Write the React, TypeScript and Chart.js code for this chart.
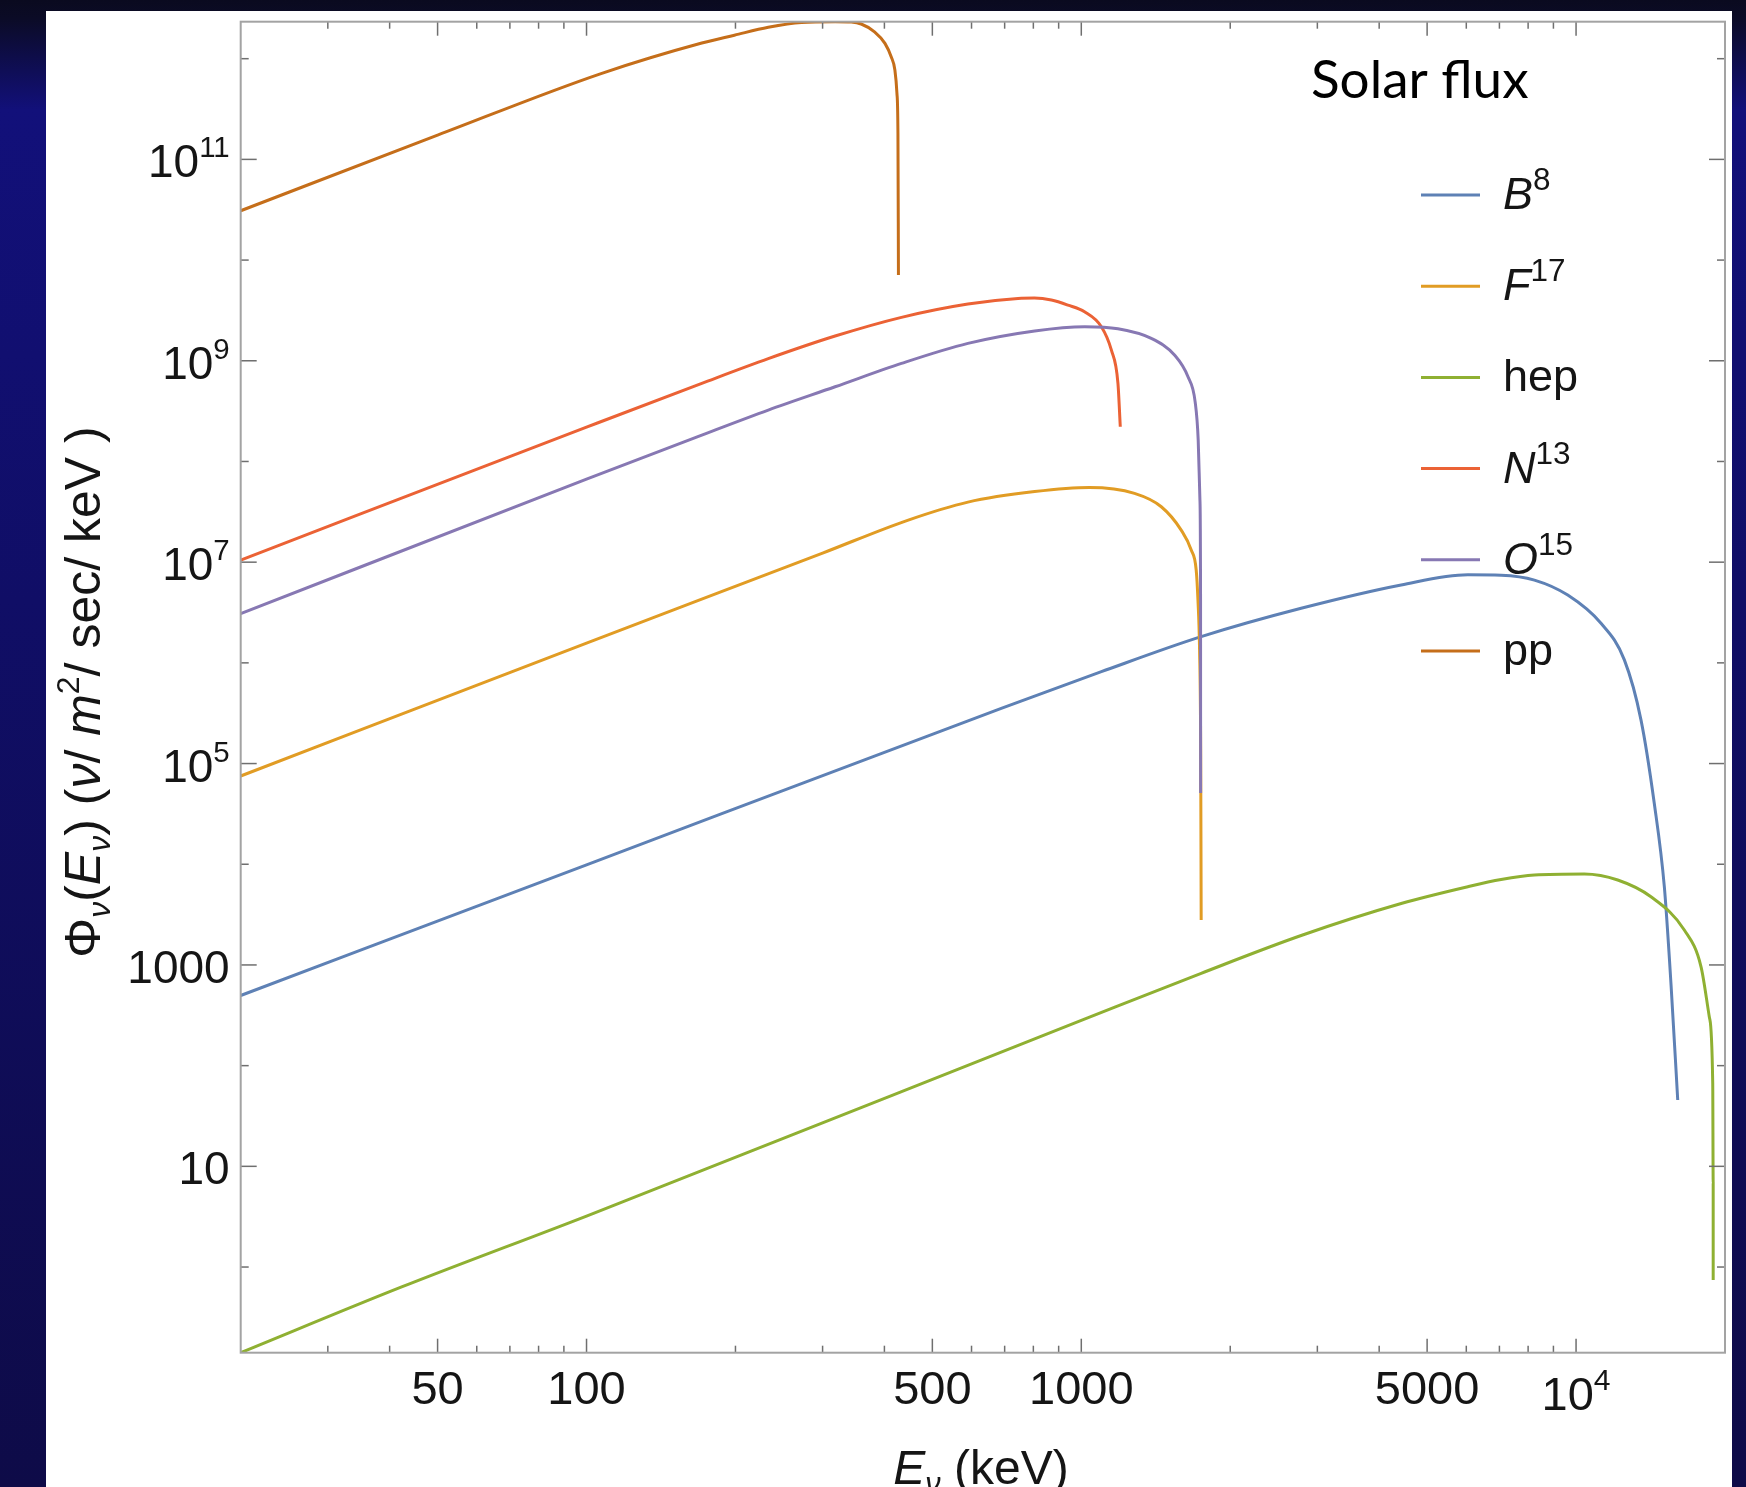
import React, { useEffect, useRef } from "react";
import { Chart, registerables } from "chart.js";

Chart.register(...registerables);

// ---------------- data (energy in keV, flux) ----------------
const seriesNames = ["B8", "F17", "hep", "N13", "O15", "pp"];
const seriesColors = ["#5E81B5", "#E19C24", "#8FB032", "#EB6235", "#8778B3", "#C56E1A"];

const b8Energy = [20, 100, 689, 1098, 1747, 2782, 4431, 6042, 7055, 8238, 9621, 11230, 12520, 13530, 14390, 15080, 15560, 16050];
const b8Flux = [497, 9.86e3, 3.53e5, 8.17e5, 1.82e6, 3.48e6, 5.93e6, 7.5e6, 7.42e6, 6.64e6, 4.71e6, 2.47e6, 1.07e6, 2.7e5, 4.03e4, 5.98e3, 631, 45.6];

const f17Energy = [20, 100, 300, 447, 590, 805, 1038, 1281, 1451, 1592, 1668, 1707, 1721, 1734, 1743, 1747];
const f17Flux = [7.52e4, 1.57e6, 1.23e7, 2.62e7, 3.95e7, 5.02e7, 5.51e7, 4.82e7, 3.55e7, 2.08e7, 1.32e7, 8.36e6, 4.21e6, 1.34e6, 1.36e5, 2.79e3];

const hepEnergy = [20, 42.3, 100, 1000, 1747, 2782, 4431, 6042, 7055, 8238, 10390, 12140, 14170, 16550, 17890, 18590, 18890, 18930, 18930];
const hepFlux = [0.141, 0.634, 3.21, 281, 826, 1.96e3, 4.07e3, 5.98e3, 7.05e3, 7.82e3, 8.0e3, 6.97e3, 4.75e3, 2.22e3, 959, 306, 66.7, 6.78, 0.743];

const n13Energy = [20, 100, 171, 233, 318, 433, 590, 745, 804, 870, 940, 1015, 1098, 1150, 1186, 1199];
const n13Flux = [1.05e7, 2.19e8, 5.97e8, 1.05e9, 1.76e9, 2.7e9, 3.66e9, 4.15e9, 4.19e9, 4.01e9, 3.57e9, 3.07e9, 2.18e9, 1.28e9, 5.97e8, 2.21e8];

const o15Energy = [20, 100, 171, 233, 318, 433, 590, 805, 1016, 1186, 1385, 1543, 1643, 1699, 1723, 1737, 1742, 1742.5];
const o15Flux = [3.08e6, 6.67e7, 1.83e8, 3.24e8, 5.52e8, 9.42e8, 1.49e9, 1.98e9, 2.18e9, 2.08e9, 1.67e9, 1.14e9, 6.93e8, 3.89e8, 1.63e8, 4.14e7, 4.21e6, 5.09e4];

const ppEnergy = [20, 50, 107, 171, 199, 233, 272, 318, 343, 359, 382, 401, 413, 420, 424, 426, 427];
const ppFlux = [3.09e10, 1.74e11, 7.11e11, 1.43e12, 1.71e12, 2.05e12, 2.29e12, 2.33e12, 2.31e12, 2.21e12, 1.85e12, 1.42e12, 1.04e12, 7.71e11, 4.55e11, 1.82e11, 7.1e9];

const xMin = 20;
const xMax = 20000;
const yMin = 0.141;
const yMax = 2.33e12;

const xMajorTicks = [50, 100, 500, 1000, 5000, 10000];
const xMajorLabels = ["50", "100", "500", "1000", "5000", "10^4"];
const xMinorTicks = [30, 40, 60, 70, 80, 90, 200, 300, 400, 600, 700, 800, 900, 2000, 3000, 4000, 6000, 7000, 8000, 9000];

const yMajorTicks = [10, 1000, 1e5, 1e7, 1e9, 1e11];
const yMajorLabels = ["10", "1000", "10^5", "10^7", "10^9", "10^11"];
const yMinorTicks = [1, 100, 1e4, 1e6, 1e8, 1e10, 1e12];

const chartTitle = "Solar flux";

// ---------------- rich text helpers ----------------
type Run = { t: string; it?: boolean; sup?: boolean; sub?: boolean };

const legendRuns: Run[][] = [
  [{ t: "B", it: true }, { t: "8", sup: true }],
  [{ t: "F", it: true }, { t: "17", sup: true }],
  [{ t: "hep" }],
  [{ t: "N", it: true }, { t: "13", sup: true }],
  [{ t: "O", it: true }, { t: "15", sup: true }],
  [{ t: "pp" }],
];

const yTitleRuns: Run[] = [
  { t: "Φ" },
  { t: "ν", it: true, sub: true },
  { t: "(" },
  { t: "E", it: true },
  { t: "ν", it: true, sub: true },
  { t: ") (" },
  { t: "ν", it: true },
  { t: "/ " },
  { t: "m", it: true },
  { t: "2", sup: true },
  { t: "/ sec/ keV )" },
];

const xTitleRuns: Run[] = [{ t: "E", it: true }, { t: "ν", it: true, sub: true }, { t: " (keV)" }];

const SANS = "'Liberation Sans', Arial, sans-serif";

type RunOpts = { size: number; scale: number; rise: number; drop: number };

function runFont(r: Run, o: RunOpts) {
  const s = r.sup || r.sub ? o.size * o.scale : o.size;
  return `${r.it ? "italic " : ""}${s}px ${SANS}`;
}

function measureRuns(ctx: CanvasRenderingContext2D, runs: Run[], o: RunOpts) {
  let w = 0;
  for (const r of runs) {
    ctx.font = runFont(r, o);
    w += ctx.measureText(r.t).width;
  }
  return w;
}

function drawRuns(
  ctx: CanvasRenderingContext2D,
  runs: Run[],
  x: number,
  y: number,
  align: "left" | "center" | "right",
  o: RunOpts
) {
  const w = measureRuns(ctx, runs, o);
  let cx = align === "left" ? x : align === "right" ? x - w : x - w / 2;
  ctx.textAlign = "left";
  ctx.textBaseline = "alphabetic";
  for (const r of runs) {
    ctx.font = runFont(r, o);
    const dy = r.sup ? -o.rise : r.sub ? o.drop : 0;
    ctx.fillText(r.t, cx, y + dy);
    cx += ctx.measureText(r.t).width;
  }
}

function parseLabel(s: string): Run[] {
  const i = s.indexOf("^");
  if (i < 0) return [{ t: s }];
  return [{ t: s.slice(0, i) }, { t: s.slice(i + 1), sup: true }];
}

// ---------------- decoration plugin (frame, ticks, labels, legend) ----------------
const decorPlugin = {
  id: "mmaDecor",
  afterDatasetsDraw(chart: any) {
    const ctx: CanvasRenderingContext2D = chart.ctx;
    const a = chart.chartArea;
    const xs = chart.scales.x;
    const ys = chart.scales.y;
    ctx.save();

    // ticks
    ctx.strokeStyle = "#6f6f6f";
    ctx.lineWidth = 1.5;
    const seg = (x1: number, y1: number, x2: number, y2: number) => {
      ctx.beginPath();
      ctx.moveTo(x1, y1);
      ctx.lineTo(x2, y2);
      ctx.stroke();
    };
    const xTick = (v: number, len: number) => {
      const p = xs.getPixelForValue(v);
      seg(p, a.bottom, p, a.bottom - len);
      seg(p, a.top, p, a.top + len);
    };
    const yTick = (v: number, len: number) => {
      const p = ys.getPixelForValue(v);
      seg(a.left, p, a.left + len, p);
      seg(a.right, p, a.right - len, p);
    };
    xMajorTicks.forEach((v) => xTick(v, 14));
    xMinorTicks.forEach((v) => xTick(v, 7));
    yMajorTicks.forEach((v) => yTick(v, 16));
    yMinorTicks.forEach((v) => yTick(v, 8));

    // frame
    ctx.strokeStyle = "#a3a3a3";
    ctx.lineWidth = 2;
    ctx.strokeRect(a.left, a.top, a.right - a.left, a.bottom - a.top);

    // tick labels
    ctx.fillStyle = "#151515";
    const xTickOpts: RunOpts = { size: 47, scale: 0.64, rise: 20, drop: 0 };
    const yTickOpts: RunOpts = { size: 46, scale: 0.64, rise: 20, drop: 0 };
    xMajorTicks.forEach((v, i) => {
      const runs = parseLabel(xMajorLabels[i]);
      const base = runs.length > 1 ? 1410 : 1404;
      drawRuns(ctx, runs, xs.getPixelForValue(v), base, "center", xTickOpts);
    });
    yMajorTicks.forEach((v, i) => {
      const runs = parseLabel(yMajorLabels[i]);
      drawRuns(ctx, runs, a.left - 11, ys.getPixelForValue(v) + 18, "right", yTickOpts);
    });

    // axis titles
    const titleOpts: RunOpts = { size: 48, scale: 0.64, rise: 20, drop: 10 };
    drawRuns(ctx, xTitleRuns, 981, 1484, "center", titleOpts);
    ctx.save();
    ctx.translate(100, 692);
    ctx.rotate(-Math.PI / 2);
    drawRuns(ctx, yTitleRuns, 0, 0, "center", { size: 50, scale: 0.64, rise: 21, drop: 10 });
    ctx.restore();

    // title "Solar flux"
    ctx.font = `53px Lato, 'Open Sans', sans-serif`;
    ctx.textAlign = "left";
    ctx.textBaseline = "alphabetic";
    ctx.fillStyle = "#000000";
    ctx.fillText(chartTitle, 1311, 98);

    // legend
    const legOpts: RunOpts = { size: 45, scale: 0.7, rise: 19, drop: 0 };
    seriesNames.forEach((_, i) => {
      const yy = 195 + 91.2 * i;
      ctx.strokeStyle = seriesColors[i];
      ctx.lineWidth = 3;
      seg(1421, yy, 1480, yy);
      ctx.fillStyle = "#151515";
      drawRuns(ctx, legendRuns[i], 1503, yy + 14, "left", legOpts);
    });

    ctx.restore();
  },
};

const seriesEnergy = [b8Energy, f17Energy, hepEnergy, n13Energy, o15Energy, ppEnergy];
const seriesFlux = [b8Flux, f17Flux, hepFlux, n13Flux, o15Flux, ppFlux];

export default function App() {
  const canvasRef = useRef<HTMLCanvasElement | null>(null);

  useEffect(() => {
    document.body.style.margin = "0";
    const canvas = canvasRef.current;
    if (!canvas) return;
    const chart = new Chart(canvas, {
      type: "line",
      data: {
        datasets: seriesNames.map((name, i) => ({
          label: name,
          data: seriesEnergy[i].map((e, j) => ({ x: e, y: seriesFlux[i][j] })),
          borderColor: seriesColors[i],
          backgroundColor: seriesColors[i],
          borderWidth: 3,
          pointRadius: 0,
          pointHoverRadius: 0,
          cubicInterpolationMode: "monotone",
          fill: false,
          order: 5 - i,
        })),
      },
      options: {
        responsive: false,
        maintainAspectRatio: false,
        animation: false,
        devicePixelRatio: 1,
        events: [],
        layout: { padding: { left: 240.7, top: 21.7, right: 21, bottom: 134.3 } },
        scales: {
          x: { type: "logarithmic", min: xMin, max: xMax, display: false },
          y: { type: "logarithmic", min: yMin, max: yMax, display: false },
        },
        plugins: {
          legend: { display: false },
          tooltip: { enabled: false },
          title: { display: false },
        },
      },
      plugins: [decorPlugin],
    } as any);
    return () => chart.destroy();
  }, []);

  return (
    <div
      style={{
        position: "absolute",
        left: 0,
        top: 0,
        width: 1746,
        height: 1487,
        overflow: "hidden",
        background:
          "linear-gradient(180deg, #0a0a1f 0px, #0b0b26 18px, #12107a 110px, #100e66 600px, #0e0b48 1487px)",
      }}
    >
      <div
        style={{
          position: "absolute",
          left: 46,
          top: 11,
          width: 1686,
          height: 1476,
          background: "#ffffff",
        }}
      />
      <canvas
        ref={canvasRef}
        width={1746}
        height={1487}
        style={{ position: "absolute", left: 0, top: 0, width: 1746, height: 1487 }}
      />
    </div>
  );
}
